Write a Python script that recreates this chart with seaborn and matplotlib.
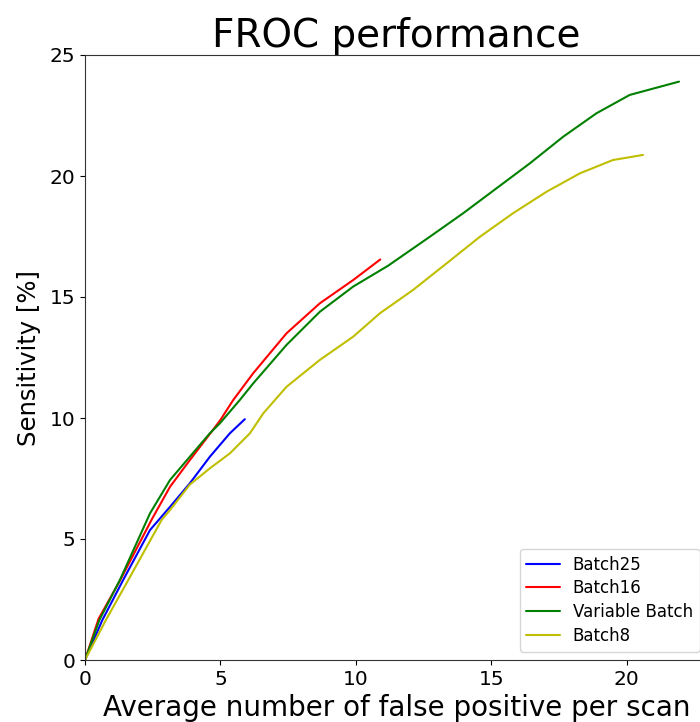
import seaborn as sns
import matplotlib.pyplot as plt
import pandas as pd

# FROC curves
batch25_x = [0, 0.64, 1.41, 2.4, 3.14, 3.87, 4.61, 5.35, 5.9]
batch25_y = [0, 1.65, 3.31, 5.37, 6.33, 7.30, 8.40, 9.37, 9.95]

batch16_x = [0, 0.5, 1.3, 2.46, 3.14, 3.87, 4.67, 5.0, 5.47, 6.21, 7.44, 8.67, 9.9, 10.9]
batch16_y = [0, 1.7, 3.3, 5.8, 7.16, 8.26, 9.43, 9.92, 10.74, 11.85, 13.5, 14.74, 15.7, 16.55]

variable_x = [0, 0.53, 1.29, 2.4, 3.14, 3.87, 4.61, 4.98, 5.72, 6.21, 7.44, 8.67, 9.9,
              11.2, 12.73, 13.96, 15.19, 16.42, 17.65, 18.88, 20.11, 21.93]
variable_y = [0, 1.65, 3.31, 6.06, 7.44, 8.40, 9.37, 9.78, 10.75, 11.43, 13.02, 14.39, 15.43,
              16.3, 17.49, 18.46, 19.49, 20.52, 21.62, 22.59, 23.35, 23.90]

batch8_x = [0, 0.77, 1.6, 2.83, 3.14, 3.87, 4.61, 5.35, 6.09, 6.58, 7.44, 8.67, 9.9, 10.89,
            12.11, 13.35, 14.58, 15.8, 17.04, 18.27, 19.49, 20.6]
batch8_y = [0, 1.65, 3.31, 5.79, 6.20, 7.25, 7.92, 8.54, 9.37, 10.19, 11.29, 12.40, 13.36, 14.33,
            15.29, 16.39, 17.49, 18.46, 19.35, 20.11, 20.66, 20.87]

labels = ['Batch25', 'Batch16', 'Variable Batch', 'Batch8']
colors = ['b', 'r', 'g', 'y']

series = [(batch25_x, batch25_y), (batch16_x, batch16_y),
          (variable_x, variable_y), (batch8_x, batch8_y)]
frames = []
for name, (xs, ys) in zip(labels, series):
    frames.append(pd.DataFrame({'fp': xs, 'sens': ys, 'model': name}))
df = pd.concat(frames, ignore_index=True)

sns.set_style('ticks', {'text.color': 'black', 'axes.labelcolor': 'black',
                        'xtick.color': 'black', 'ytick.color': 'black',
                        'axes.edgecolor': '0.2'})
plt.rcParams['font.family'] = ['DejaVu Sans']

fig = plt.figure(figsize=(7, 7.22), dpi=100)
ax = fig.add_axes([85 / 700, 62 / 722, 623 / 700, 605 / 722])

sns.lineplot(data=df, x='fp', y='sens', hue='model', hue_order=labels,
             palette=dict(zip(labels, colors)), linewidth=1.5, ax=ax)

ax.set_xlim(0, 23)
ax.set_ylim(0, 25)
ax.set_xticks([0, 5, 10, 15, 20])
ax.set_yticks([0, 5, 10, 15, 20, 25])
ax.tick_params(labelsize=14.5)
ax.set_title('FROC performance', fontsize=28)
ax.set_xlabel('Average number of false positive per scan', fontsize=20, labelpad=4)
ax.set_ylabel('Sensitivity [%]', fontsize=17.5, labelpad=6)
ax.legend(loc='lower right', fontsize=12, title=None, labelspacing=0.35)

fig.savefig('out.png', dpi=100)
